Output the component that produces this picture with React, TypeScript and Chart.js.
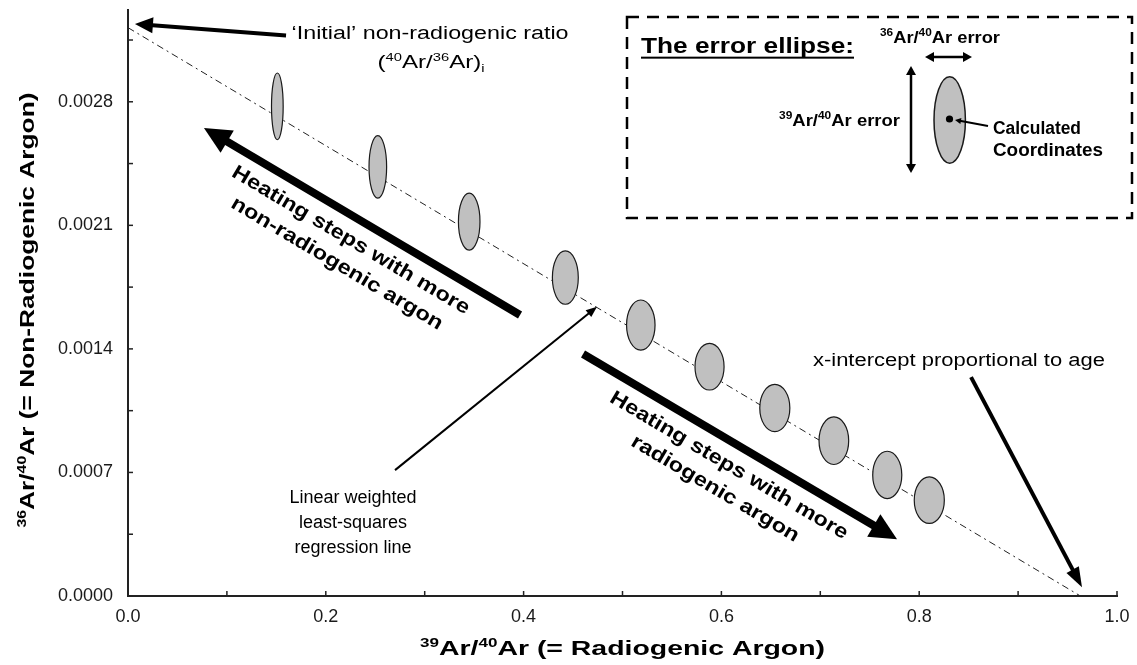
import { useEffect, useRef } from 'react';
import { Chart, registerables } from 'chart.js';

Chart.register(...registerables);

const FONT = '"Liberation Sans", Arial, Helvetica, sans-serif';

// 39Ar/40Ar of each heating step
const stepX = [0.151, 0.2526, 0.345, 0.4422, 0.5185, 0.588, 0.654, 0.7137, 0.7677, 0.8102];
// 36Ar/40Ar of each heating step
const stepY = [0.002774, 0.002431, 0.002121, 0.001804, 0.001535, 0.001299, 0.001065, 0.00088, 0.000686, 0.000543];
// 1-sigma uncertainties (half-axes of the error ellipses)
const errX = [0.0059, 0.0089, 0.0109, 0.0131, 0.0144, 0.0147, 0.0152, 0.015, 0.0147, 0.0152];
const errY = [0.000189, 0.000177, 0.000161, 0.000151, 0.000142, 0.000132, 0.000134, 0.000135, 0.000134, 0.000132];

// weighted regression: y-intercept (initial ratio) to x-intercept
const regX = [0, 0.963];
const regY = [0.00322, 0];

const xTickLabels = ['0.0', '0.2', '0.4', '0.6', '0.8', '1.0'];
const yTickLabels = ['0.0000', '0.0007', '0.0014', '0.0021', '0.0028'];

type Seg = [string, ('sup' | 'sub')?];
type RichOpts = {
  size: number;
  bold?: boolean;
  width?: number;
  sx?: number;
  align?: 'center' | 'left';
  angle?: number;
  underline?: boolean;
  color?: string;
};

function rich(ctx: CanvasRenderingContext2D, segs: Seg[], x: number, y: number, o: RichOpts) {
  const w = o.bold ? 'bold ' : '';
  const big = `${w}${o.size}px ${FONT}`;
  const small = `${w}${Math.round(o.size * 0.62)}px ${FONT}`;
  const widths = segs.map(([t, k]) => {
    ctx.font = k ? small : big;
    return ctx.measureText(t).width;
  });
  const natural = widths.reduce((a, b) => a + b, 0);
  const sx = o.width ? o.width / natural : o.sx ?? 1;
  ctx.save();
  ctx.translate(x, y);
  if (o.angle) ctx.rotate(o.angle);
  ctx.scale(sx, 1);
  ctx.fillStyle = o.color ?? '#000';
  ctx.textBaseline = 'alphabetic';
  ctx.textAlign = 'left';
  const base = o.size * 0.36;
  let cx = o.align === 'left' ? 0 : -natural / 2;
  const x0 = cx;
  segs.forEach(([t, k], i) => {
    ctx.font = k ? small : big;
    const dy = k === 'sup' ? -o.size * 0.4 : k === 'sub' ? o.size * 0.22 : 0;
    ctx.fillText(t, cx, base + dy);
    cx += widths[i];
  });
  if (o.underline) ctx.fillRect(x0, base + o.size * 0.17, natural, 2);
  ctx.restore();
}

function arrow(
  ctx: CanvasRenderingContext2D,
  x1: number, y1: number, x2: number, y2: number,
  lw: number, head: number, half: number, both = false,
) {
  const L = Math.hypot(x2 - x1, y2 - y1);
  const ux = (x2 - x1) / L;
  const uy = (y2 - y1) / L;
  const nx = -uy;
  const ny = ux;
  const tri = (tx: number, ty: number, dx: number, dy: number) => {
    ctx.beginPath();
    ctx.moveTo(tx, ty);
    ctx.lineTo(tx - dx * head + nx * half, ty - dy * head + ny * half);
    ctx.lineTo(tx - dx * head - nx * half, ty - dy * head - ny * half);
    ctx.closePath();
    ctx.fill();
  };
  const sx = both ? x1 + ux * head * 0.8 : x1;
  const sy = both ? y1 + uy * head * 0.8 : y1;
  ctx.lineWidth = lw;
  ctx.lineCap = 'butt';
  ctx.beginPath();
  ctx.moveTo(sx, sy);
  ctx.lineTo(x2 - ux * head * 0.8, y2 - uy * head * 0.8);
  ctx.stroke();
  tri(x2, y2, ux, uy);
  if (both) tri(x1, y1, -ux, -uy);
}

// annotation arrows, anchored in data coordinates
const arrows = [
  { from: [0.1598, 0.003176], to: [0.007, 0.003241], lw: 4, head: 18, half: 8 },
  { from: [0.3964, 0.001592], to: [0.0768, 0.002652], lw: 8, head: 27, half: 13 },
  { from: [0.4601, 0.001371], to: [0.7776, 0.000322], lw: 8, head: 27, half: 13 },
  { from: [0.27, 0.000713], to: [0.4742, 0.001639], lw: 2, head: 11, half: 4.5 },
  { from: [0.8524, 0.00124], to: [0.9646, 0.0000493], lw: 4, head: 20, half: 7 },
];

const notes: { segs: Seg[]; at: number[]; size: number; width?: number }[] = [
  { segs: [['‘Initial’ non-radiogenic ratio']], at: [0.3054, 0.00319], size: 18, width: 277 },
  { segs: [['('], ['40', 'sup'], ['Ar/'], ['36', 'sup'], ['Ar)'], ['i', 'sub']], at: [0.3064, 0.003026], size: 18, width: 107 },
  { segs: [['Linear weighted']], at: [0.2275, 0.000566], size: 18 },
  { segs: [['least-squares']], at: [0.2275, 0.000424], size: 18 },
  { segs: [['regression line']], at: [0.2275, 0.000282], size: 18 },
  { segs: [['x-intercept proportional to age']], at: [0.8402, 0.001342], size: 18, width: 292 },
];

const heatingUp: Seg[][] = [[['Heating steps with more']], [['non-radiogenic argon']]];
const heatingDown: Seg[][] = [[['Heating steps with more']], [['radiogenic argon']]];

function heatingText(ctx: CanvasRenderingContext2D, a: number[], b: number[], lines: Seg[][]) {
  let [x1, y1] = a;
  let [x2, y2] = b;
  if (x2 < x1) [x1, y1, x2, y2] = [x2, y2, x1, y1];
  const L = Math.hypot(x2 - x1, y2 - y1);
  const ux = (x2 - x1) / L;
  const uy = (y2 - y1) / L;
  const nx = -uy;
  const ny = ux;
  const mx = (x1 + x2) / 2 + nx * 34;
  const my = (y1 + y2) / 2 + ny * 34;
  const ang = Math.atan2(uy, ux);
  lines.forEach((segs, i) => {
    const off = (i - (lines.length - 1) / 2) * 27;
    rich(ctx, segs, mx + nx * off, my + ny * off, { size: 20, bold: true, angle: ang, sx: 1.18 });
  });
}

const isochronDecor = {
  id: 'isochronDecor',
  afterDatasetsDraw(chart: Chart) {
    const { ctx, scales } = chart;
    const xs = scales.x;
    const ys = scales.y;
    ctx.save();
    stepX.forEach((xv, i) => {
      const cx = xs.getPixelForValue(xv);
      const cy = ys.getPixelForValue(stepY[i]);
      const rx = Math.abs(xs.getPixelForValue(xv + errX[i]) - cx);
      const ry = Math.abs(ys.getPixelForValue(stepY[i] + errY[i]) - cy);
      ctx.beginPath();
      ctx.ellipse(cx, cy, rx, ry, 0, 0, Math.PI * 2);
      ctx.fillStyle = '#c0c0c0';
      ctx.fill();
      ctx.lineWidth = 1.2;
      ctx.strokeStyle = '#1a1a1a';
      ctx.stroke();
    });
    ctx.restore();
  },
  afterDraw(chart: Chart) {
    const { ctx, chartArea: area, scales } = chart;
    const xs = scales.x;
    const ys = scales.y;
    const P = (v: number[]) => [xs.getPixelForValue(v[0]), ys.getPixelForValue(v[1])];
    ctx.save();

    // inward tick marks
    ctx.strokeStyle = '#222';
    ctx.lineWidth = 1.5;
    ys.ticks.forEach((t) => {
      const yy = ys.getPixelForValue(t.value);
      ctx.beginPath();
      ctx.moveTo(area.left, yy);
      ctx.lineTo(area.left + 5, yy);
      ctx.stroke();
    });
    xs.ticks.forEach((t) => {
      const xx = xs.getPixelForValue(t.value);
      ctx.beginPath();
      ctx.moveTo(xx, area.bottom);
      ctx.lineTo(xx, area.bottom - 5);
      ctx.stroke();
    });

    // axis titles
    rich(ctx, [['36', 'sup'], ['Ar/'], ['40', 'sup'], ['Ar (= Non-Radiogenic Argon)']],
      area.left - 101, (area.top + area.bottom) / 2 + 7, { size: 20, bold: true, angle: -Math.PI / 2, width: 435 });
    rich(ctx, [['39', 'sup'], ['Ar/'], ['40', 'sup'], ['Ar (= Radiogenic Argon)']],
      (area.left + area.right) / 2, area.bottom + 52, { size: 20, bold: true, width: 405 });

    // arrows and labels on the plot
    ctx.fillStyle = '#000';
    ctx.strokeStyle = '#000';
    arrows.forEach((a) => {
      const [x1, y1] = P(a.from);
      const [x2, y2] = P(a.to);
      arrow(ctx, x1, y1, x2, y2, a.lw, a.head, a.half);
    });
    notes.forEach((n) => {
      const [x, y] = P(n.at);
      rich(ctx, n.segs, x, y, { size: n.size, width: n.width });
    });
    heatingText(ctx, P(arrows[1].from), P(arrows[1].to), heatingUp);
    heatingText(ctx, P(arrows[2].from), P(arrows[2].to), heatingDown);

    // inset explaining the error ellipse
    ctx.setLineDash([12, 8]);
    ctx.lineWidth = 2.5;
    ctx.strokeStyle = '#000';
    ctx.strokeRect(627, 17, 505, 201);
    ctx.setLineDash([]);
    rich(ctx, [['The error ellipse:']], 641, 45, { size: 22, bold: true, align: 'left', width: 213, underline: true });
    rich(ctx, [['36', 'sup'], ['Ar/'], ['40', 'sup'], ['Ar error']], 940, 37, { size: 17, bold: true, width: 120 });
    rich(ctx, [['39', 'sup'], ['Ar/'], ['40', 'sup'], ['Ar error']], 839.5, 120, { size: 17, bold: true, width: 121 });
    rich(ctx, [['Calculated']], 993, 128, { size: 18, bold: true, align: 'left', width: 88 });
    rich(ctx, [['Coordinates']], 993, 150, { size: 18, bold: true, align: 'left', width: 110 });
    ctx.fillStyle = '#000';
    ctx.strokeStyle = '#000';
    arrow(ctx, 925, 57, 972, 57, 2.5, 9, 5, true);
    arrow(ctx, 911, 66, 911, 173, 2.5, 9, 5, true);
    ctx.beginPath();
    ctx.ellipse(949.7, 120, 15.7, 43.3, 0, 0, Math.PI * 2);
    ctx.fillStyle = '#c0c0c0';
    ctx.fill();
    ctx.lineWidth = 1.5;
    ctx.strokeStyle = '#1a1a1a';
    ctx.stroke();
    ctx.fillStyle = '#000';
    ctx.strokeStyle = '#000';
    ctx.beginPath();
    ctx.arc(949.5, 119, 3.6, 0, Math.PI * 2);
    ctx.fill();
    arrow(ctx, 988, 126, 955, 120, 2, 6, 3);

    ctx.restore();
  },
};

export default function App() {
  const ref = useRef<HTMLCanvasElement | null>(null);

  useEffect(() => {
    const canvas = ref.current;
    if (!canvas) return;
    const tickFont = { family: FONT, size: 18 };
    const chart = new Chart(canvas, {
      type: 'scatter',
      data: {
        datasets: [
          {
            label: 'Regression',
            data: regX.map((x, i) => ({ x, y: regY[i] })),
            showLine: true,
            borderColor: '#222',
            borderWidth: 1,
            borderDash: [7, 4, 2, 4],
            pointRadius: 0,
            fill: false,
          },
          {
            label: 'Heating steps',
            data: stepX.map((x, i) => ({ x, y: stepY[i] })),
            pointRadius: 0,
          },
        ],
      },
      options: {
        responsive: false,
        animation: false,
        devicePixelRatio: 1,
        layout: { padding: { top: 10, right: 20, left: 0, bottom: 0 } },
        plugins: { legend: { display: false }, tooltip: { enabled: false } },
        scales: {
          x: {
            type: 'linear',
            min: 0,
            max: 1,
            afterFit: (s: any) => {
              s.height = 69;
              s.paddingLeft = 0;
              s.paddingRight = 0;
            },
            grid: { display: false, drawTicks: false },
            border: { display: true, color: '#222', width: 2 },
            ticks: {
              stepSize: 0.1,
              includeBounds: false,
              autoSkip: false,
              maxRotation: 0,
              padding: 10,
              color: '#1a1a1a',
              font: tickFont,
              callback: (v: any) => {
                const s = Number(v).toFixed(1);
                return xTickLabels.includes(s) ? s : '';
              },
            },
          },
          y: {
            type: 'linear',
            min: 0,
            max: 0.00332,
            afterFit: (s: any) => {
              s.width = 128;
              s.paddingTop = 0;
              s.paddingBottom = 0;
            },
            grid: { display: false, drawTicks: false },
            border: { display: true, color: '#222', width: 2 },
            ticks: {
              stepSize: 0.00035,
              includeBounds: false,
              autoSkip: false,
              padding: 15,
              color: '#1a1a1a',
              font: tickFont,
              callback: (v: any) => {
                const s = Number(v).toFixed(4);
                return yTickLabels.includes(s) ? s : '';
              },
            },
          },
        },
      },
      plugins: [isochronDecor],
    });
    return () => chart.destroy();
  }, []);

  return (
    <div style={{ position: 'absolute', left: 0, top: 0, width: 1137, height: 665, background: '#fff' }}>
      <canvas ref={ref} width={1137} height={665} />
    </div>
  );
}
